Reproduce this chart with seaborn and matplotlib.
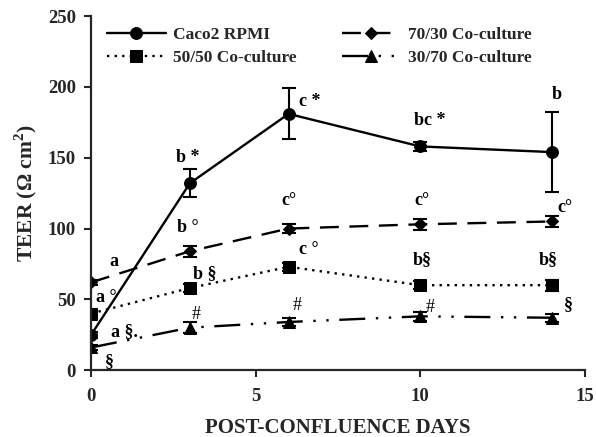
import numpy as np
import pandas as pd
import matplotlib
matplotlib.use("Agg")
import matplotlib.pyplot as plt
import seaborn as sns

days = [0, 3, 6, 10, 14]
series_names = ["Caco2 RPMI", "70/30 Co-culture", "50/50 Co-culture", "30/70 Co-culture"]
caco2 = [25, 132, 181, 158, 154]
caco2_err = [2, 10, 18, 3, 28]
co7030 = [62, 84, 100, 103, 105]
co7030_err = [2, 4, 3, 4, 4]
co5050 = [40, 58, 73, 60, 60]
co5050_err = [3, 3, 3, 3, 4]
co3070 = [16, 30, 34, 38, 37]
co3070_err = [2, 4, 3, 3, 3]

labels = [
    ("b *", 2.95, 150), ("c *", 6.65, 190), ("bc *", 10.3, 176), ("b", 14.15, 195),
    ("a", 0.7, 77), ("b \u00b0", 2.95, 101), ("c\u00b0", 6.0, 120), ("c\u00b0", 10.05, 120), ("c\u00b0", 14.4, 115),
    ("a \u00b0", 0.45, 51), ("b \u00a7", 3.45, 68), ("c \u00b0", 6.6, 85), ("b\u00a7", 10.05, 78), ("b\u00a7", 13.9, 78),
    ("a \u00a7.", 1.0, 27), ("#", 3.2, 39), ("#", 6.25, 46), ("#", 10.3, 44), ("\u00a7", 14.5, 46),
    ("\u00a7", 0.55, 6),
]

vals = [caco2, co7030, co5050, co3070]
errs = [caco2_err, co7030_err, co5050_err, co3070_err]
df = pd.DataFrame({
    "day": days * 4,
    "teer": sum(vals, []),
    "err": sum(errs, []),
    "series": sum([[n] * len(days) for n in series_names], []),
})

sns.set_style("ticks")
plt.rcParams["font.family"] = ["Liberation Serif", "DejaVu Serif"]
plt.rcParams["font.weight"] = "bold"
plt.rcParams["mathtext.fontset"] = "custom"
plt.rcParams["mathtext.bf"] = "Liberation Serif:bold"

fig = plt.figure(figsize=(5.96, 4.37), dpi=100)
ax = fig.add_axes([0.153, 0.153, 0.828, 0.81])

styles = {
    "Caco2 RPMI": dict(marker="o", ls="-"),
    "70/30 Co-culture": dict(marker="D", ls=(0, (8, 4.5))),
    "50/50 Co-culture": dict(marker="s", ls=(0, (1, 2.2))),
    "30/70 Co-culture": dict(marker="^", ls=(0, (11, 4.5, 1, 4.5, 1, 4.5))),
}
msize = {"o": 8.5, "D": 6.5, "s": 8.5, "^": 8.5}

for name in series_names:
    sub = df[df["series"] == name]
    st = styles[name]
    sns.lineplot(data=sub, x="day", y="teer", ax=ax, color="black", lw=1.7,
                 linestyle=st["ls"], marker=st["marker"], markersize=msize[st["marker"]],
                 markeredgecolor="black", markerfacecolor="black", label=name)
    ax.errorbar(sub["day"], sub["teer"], yerr=sub["err"], fmt="none", ecolor="black",
                elinewidth=1.5, capsize=5, capthick=1.5)

for txt, x, y in labels:
    w = "normal" if txt in ("#",) else "bold"
    ax.text(x, y, txt, ha="center", va="center", fontsize=13, fontweight=w, color="black")

ax.set_xlim(0, 15)
ax.set_ylim(0, 250)
ax.set_xticks([0, 5, 10, 15])
ax.set_yticks([0, 50, 100, 150, 200, 250])
ax.tick_params(axis="both", labelsize=13.5, width=1.5, length=5, direction="out")
for lab in ax.get_xticklabels() + ax.get_yticklabels():
    lab.set_fontweight("bold")
ax.tick_params(axis="x", pad=8)
ax.tick_params(axis="y", pad=6)
sns.despine(ax=ax)
for s in ["left", "bottom"]:
    ax.spines[s].set_linewidth(1.6)
ax.set_xlabel("POST-CONFLUENCE DAYS", fontsize=15, fontweight="bold", labelpad=9)
ax.set_ylabel("TEER (\u03a9 cm$^{\\mathbf{2}}$)", fontsize=15.5, fontweight="bold", labelpad=6)

h, l = ax.get_legend_handles_labels()
order = [0, 2, 1, 3]
ax.legend([h[i] for i in order], [l[i] for i in order], ncol=2, frameon=False,
          loc="upper left", bbox_to_anchor=(0.0, 1.015),
          handlelength=3.4, columnspacing=2.6, labelspacing=0.4, handletextpad=0.4,
          prop={"weight": "bold", "size": 12.5})

fig.savefig("out.png", dpi=100)
